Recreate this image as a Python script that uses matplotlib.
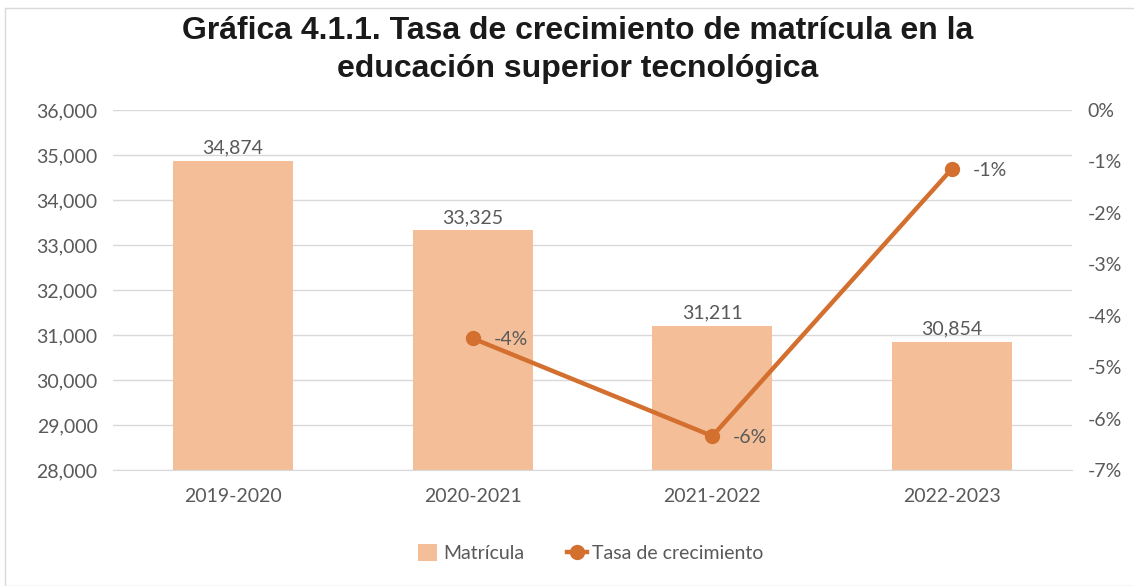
import matplotlib
matplotlib.use("Agg")
import matplotlib.pyplot as plt
from matplotlib.lines import Line2D
from matplotlib.patches import Patch, Rectangle
import matplotlib.ticker as mticker

categories = ["2019-2020", "2020-2021", "2021-2022", "2022-2023"]
matricula = [34874, 33325, 31211, 30854]
tasa_pos = [1, 2, 3]
tasa = [-4.44, -6.34, -1.14]
tasa_labels = ["-4%", "-6%", "-1%"]

bar_color = "#F4BF98"
line_color = "#D4702F"
text_gray = "#595959"
tick_font = "Lato"
fs = 14

fig = plt.figure(figsize=(11.34, 5.86), dpi=100)
fig.patches.append(Rectangle((5/1134, 0), 1.0, 1 - 8/586, transform=fig.transFigure,
                             fill=False, edgecolor="#D9D9D9", linewidth=1.0))

ax = fig.add_axes([113/1134, 1 - 470/586, (1072 - 113)/1134, 360/586])
x = list(range(len(categories)))
ax.bar(x, matricula, width=0.5, color=bar_color, zorder=2)
ax.set_ylim(28000, 36000)
ax.set_xlim(-0.5, 3.5)
ax.yaxis.set_major_locator(mticker.MultipleLocator(1000))
ax.yaxis.set_major_formatter(mticker.FuncFormatter(lambda v, p: f"{int(v):,}"))
ax.grid(axis="y", color="#D9D9D9", linewidth=1.0, zorder=0)
ax.set_axisbelow(True)
for s in ax.spines.values():
    s.set_visible(False)
ax.spines["bottom"].set_visible(True)
ax.spines["bottom"].set_color("#D9D9D9")
ax.tick_params(axis="both", length=0, labelsize=fs, labelcolor=text_gray, pad=11)
ax.tick_params(axis="x", pad=13)
ax.set_xticks(x)
ax.set_xticklabels(categories, fontfamily=tick_font)
for lab in ax.get_yticklabels():
    lab.set_fontfamily(tick_font)
for xi, v in zip(x, matricula):
    ax.annotate(f"{v:,}", (xi, v), xytext=(0, 3), textcoords="offset points",
                ha="center", va="bottom", fontsize=fs, color=text_gray, fontfamily=tick_font)

ax2 = ax.twinx()
ax2.plot(tasa_pos, tasa, color=line_color, linewidth=3.2, marker="o", markersize=10, zorder=3)
ax2.set_ylim(-7, 0)
ax2.yaxis.set_major_locator(mticker.MultipleLocator(1))
ax2.yaxis.set_major_formatter(mticker.FuncFormatter(lambda v, p: f"{int(round(v))}%"))
for s in ax2.spines.values():
    s.set_visible(False)
ax2.tick_params(axis="y", length=0, labelsize=fs, labelcolor=text_gray, pad=11)
for lab in ax2.get_yticklabels():
    lab.set_fontfamily(tick_font)
for xi, v, t in zip(tasa_pos, tasa, tasa_labels):
    ax2.annotate(t, (xi, v), xytext=(15, -1), textcoords="offset points",
                 ha="left", va="center", fontsize=fs, color=text_gray, fontfamily=tick_font)

fig.text(0.509, 1 - 50/586, "Gráfica 4.1.1. Tasa de crecimiento de matrícula en la\neducación superior tecnológica",
         ha="center", va="center", fontsize=23, fontweight="bold", fontfamily="Liberation Sans",
         color="#1a1a1a", linespacing=1.38)

handles = [Patch(facecolor=bar_color, edgecolor="none"),
           Line2D([0], [0], color=line_color, linewidth=3.2, marker="o", markersize=10)]
fig.legend(handles, ["Matrícula", "Tasa de crecimiento"], loc="center",
           bbox_to_anchor=(0.521, 1 - 553/586), ncol=2, frameon=False,
           prop={"family": tick_font, "size": fs}, labelcolor=text_gray,
           handlelength=1.0, handleheight=1.0, columnspacing=2.2, handletextpad=0.3)

fig.savefig("out.png", dpi=100)
